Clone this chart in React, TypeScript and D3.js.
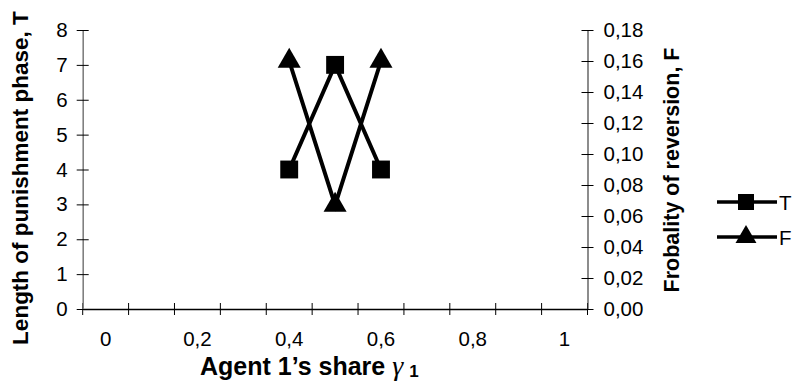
import React, { useEffect, useRef } from "react";
import * as d3 from "d3";

const categories = ["0", "0,1", "0,2", "0,3", "0,4", "0,5", "0,6", "0,7", "0,8", "0,9", "1"];
const shownLabels = ["0", "0,2", "0,4", "0,6", "0,8", "1"];
const pointCats = ["0,4", "0,5", "0,6"];
const tValues = [4, 7, 4];
const fValues = [0.16, 0.067, 0.16];
const leftTicks = [0, 1, 2, 3, 4, 5, 6, 7, 8];
const rightTicks = [0, 0.02, 0.04, 0.06, 0.08, 0.1, 0.12, 0.14, 0.16, 0.18];

const FONT = "'Liberation Sans', Arial, sans-serif";

const App = () => {
  const ref = useRef<SVGSVGElement>(null);

  useEffect(() => {
    const W = 795;
    const H = 387;
    const left = 82.7;
    const right = 587.5;
    const top = 30;
    const bottom = 309;

    const svg = d3.select(ref.current).attr("width", W).attr("height", H);
    svg.selectAll("*").remove();

    const x = d3.scaleBand().domain(categories).range([left, right]).padding(0);
    const yL = d3.scaleLinear().domain([0, 8]).range([bottom, top]);
    const yR = d3.scaleLinear().domain([0, 0.18]).range([bottom, top]);

    // x axis: labels every other category, ticks on category boundaries
    const gx = svg
      .append("g")
      .attr("transform", "translate(0," + bottom + ")")
      .call(d3.axisBottom(x).tickValues(shownLabels).tickSize(0).tickPadding(22));
    gx.select(".domain").attr("stroke", "#000").attr("stroke-width", 1.3);
    gx.selectAll("text").style("font-family", FONT).style("font-size", "20.5px").attr("fill", "#000");

    const bounds = categories.map((c) => x(c) as number).concat([right]);
    svg
      .append("g")
      .selectAll("line")
      .data(bounds)
      .enter()
      .append("line")
      .attr("x1", (d) => d)
      .attr("x2", (d) => d)
      .attr("y1", bottom - 6)
      .attr("y2", bottom + 6)
      .attr("stroke", "#000")
      .attr("stroke-width", 1);

    // left axis
    const gl = svg
      .append("g")
      .attr("transform", "translate(" + left + ",0)")
      .call(d3.axisLeft(yL).tickValues(leftTicks).tickSizeOuter(0).tickSizeInner(6).tickPadding(9));
    gl.select(".domain").attr("stroke", "#808080").attr("stroke-width", 1.6);
    gl.selectAll(".tick line").attr("x1", 6).attr("x2", -6).attr("stroke", "#000");
    gl.selectAll("text").style("font-family", FONT).style("font-size", "20.5px").attr("fill", "#000");

    // right axis
    const gr = svg
      .append("g")
      .attr("transform", "translate(" + right + ",0)")
      .call(
        d3
          .axisRight(yR)
          .tickValues(rightTicks)
          .tickSizeOuter(0)
          .tickSizeInner(6)
          .tickPadding(10)
          .tickFormat((d) => d3.format(".2f")(d as number).replace(".", ","))
      );
    gr.select(".domain").attr("stroke", "#404040").attr("stroke-width", 1.2);
    gr.selectAll(".tick line").attr("x1", -6).attr("x2", 6).attr("stroke", "#000");
    gr.selectAll("text").style("font-family", FONT).style("font-size", "20.5px").attr("fill", "#000");

    const cx = (c: string) => (x(c) as number) + x.bandwidth() / 2;

    const tData = pointCats.map((c, i) => ({ c, v: tValues[i] }));
    const fData = pointCats.map((c, i) => ({ c, v: fValues[i] }));

    svg
      .append("path")
      .datum(tData)
      .attr("fill", "none")
      .attr("stroke", "#000")
      .attr("stroke-width", 4)
      .attr("d", d3.line<{ c: string; v: number }>().x((d) => cx(d.c)).y((d) => yL(d.v)));

    svg
      .append("path")
      .datum(fData)
      .attr("fill", "none")
      .attr("stroke", "#000")
      .attr("stroke-width", 4)
      .attr("d", d3.line<{ c: string; v: number }>().x((d) => cx(d.c)).y((d) => yR(d.v)));

    const sq = d3.symbol().type(d3.symbolSquare).size(320);
    const tri = d3.symbol().type(d3.symbolTriangle).size(230);

    svg
      .selectAll(".sq")
      .data(tData)
      .enter()
      .append("path")
      .attr("class", "sq")
      .attr("d", sq)
      .attr("transform", (d) => "translate(" + cx(d.c) + "," + yL(d.v) + ")")
      .attr("fill", "#000");

    svg
      .selectAll(".tri")
      .data(fData)
      .enter()
      .append("path")
      .attr("class", "tri")
      .attr("d", tri)
      .attr("transform", (d) => "translate(" + cx(d.c) + "," + yR(d.v) + ")")
      .attr("fill", "#000");

    // axis titles
    svg
      .append("text")
      .attr("transform", "translate(20," + 178 + ") rotate(-90)")
      .attr("text-anchor", "middle")
      .attr("dominant-baseline", "central")
      .style("font-family", FONT)
      .style("font-size", "22.5px")
      .style("font-weight", "bold")
      .text("Length of punishment phase, T");

    svg
      .append("text")
      .attr("transform", "translate(672," + 170 + ") rotate(-90)")
      .attr("text-anchor", "middle")
      .attr("dominant-baseline", "central")
      .style("font-family", FONT)
      .style("font-size", "21.5px")
      .style("font-weight", "bold")
      .text("Frobality of reversion, F");

    const xt = svg
      .append("text")
      .attr("x", 200)
      .attr("y", 375)
      .attr("text-anchor", "start")
      .style("font-family", FONT)
      .style("font-size", "25px")
      .style("font-weight", "bold");
    xt.append("tspan").text("Agent 1’s share ");
    xt.append("tspan")
      .style("font-family", "'Liberation Serif', serif")
      .style("font-style", "italic")
      .style("font-weight", "normal")
      .style("font-size", "28px")
      .text("γ");
    xt.append("tspan").attr("dx", 6).attr("dy", 2).style("font-size", "17px").text("1");

    // legend
    const sqL = d3.symbol().type(d3.symbolSquare).size(256);
    const triL = d3.symbol().type(d3.symbolTriangle).size(190);
    const legend = [
      { label: "T", sym: sqL, y: 202 },
      { label: "F", sym: triL, y: 237 },
    ];
    const lg = svg.append("g");
    legend.forEach((d) => {
      lg.append("line")
        .attr("x1", 717)
        .attr("x2", 777)
        .attr("y1", d.y)
        .attr("y2", d.y)
        .attr("stroke", "#000")
        .attr("stroke-width", 3.5);
      lg.append("path")
        .attr("d", d.sym)
        .attr("transform", "translate(746," + d.y + ")")
        .attr("fill", "#000");
      lg.append("text")
        .attr("x", 779)
        .attr("y", d.y)
        .attr("dominant-baseline", "central")
        .style("font-family", FONT)
        .style("font-size", "20.5px")
        .text(d.label);
    });
  }, []);

  return (
    <div style={{ position: "absolute", left: 0, top: 0 }}>
      <svg ref={ref}></svg>
    </div>
  );
};

export default App;
